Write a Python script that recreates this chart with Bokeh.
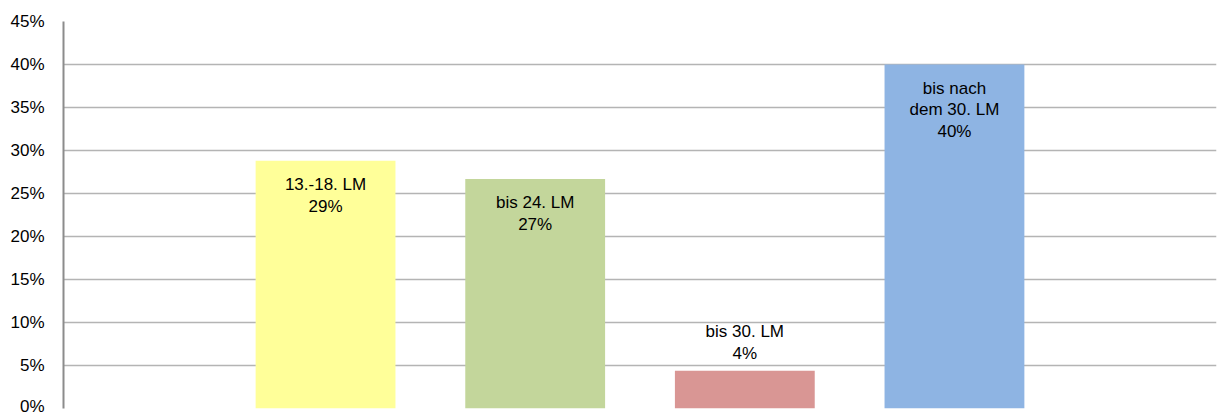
from bokeh.plotting import figure
from bokeh.models import ColumnDataSource, NumeralTickFormatter, FixedTicker, Range1d
from bokeh.core.properties import value
from bokeh.embed import file_html
from bokeh.resources import INLINE

categories = ["13.-18. LM", "bis 24. LM", "bis 30. LM", "bis nach\ndem 30. LM"]
shares = [0.288, 0.267, 0.044, 0.400]
colors = ["#FFFF99", "#C3D69B", "#D99694", "#8EB4E3"]
y_ticks = [0.0, 0.05, 0.10, 0.15, 0.20, 0.25, 0.30, 0.35, 0.40, 0.45]

FONT = "Liberation Sans"

xs = list(range(len(categories)))
labels = [f"{c}\n{round(v * 100):.0f}%" for c, v in zip(categories, shares)]

inside = [i for i, v in enumerate(shares) if v >= 0.1]
outside = [i for i, v in enumerate(shares) if v < 0.1]

src = ColumnDataSource(dict(x=xs, top=shares, color=colors, label=labels))
src_in = ColumnDataSource(dict(x=[xs[i] for i in inside], y=[shares[i] for i in inside],
                               label=[labels[i] for i in inside]))
src_out = ColumnDataSource(dict(x=[xs[i] for i in outside], y=[shares[i] for i in outside],
                                label=[labels[i] for i in outside]))

p = figure(width=1221, height=415, output_backend="svg", toolbar_location=None,
           x_range=Range1d(-1.25, 4.25), y_range=Range1d(0, 0.45),
           min_border_left=63, min_border_right=5, min_border_top=21, min_border_bottom=7)

p.vbar(x="x", top="top", width=0.667, color="color", line_color=None, source=src)

p.text(x="x", y="y", text="label", source=src_in, text_align="center", text_baseline="top",
       y_offset=14, text_font=value(FONT), text_font_size="17px", text_color="#000000",
       text_line_height=1.15)
p.text(x="x", y="y", text="label", source=src_out, text_align="center", text_baseline="bottom",
       y_offset=-8, text_font=value(FONT), text_font_size="17px", text_color="#000000",
       text_line_height=1.15)

p.xaxis.visible = False
p.xgrid.visible = False
p.ygrid.ticker = FixedTicker(ticks=y_ticks)
p.ygrid.grid_line_color = "#B4B4B4"
p.ygrid.grid_line_width = 1.5

ax = p.yaxis[0]
ax.ticker = FixedTicker(ticks=y_ticks)
ax.formatter = NumeralTickFormatter(format="0%")
ax.major_tick_line_color = None
ax.minor_tick_line_color = None
ax.major_tick_out = 0
ax.major_tick_in = 0
ax.major_label_standoff = 19
ax.axis_line_color = "#8C8C8C"
ax.axis_line_width = 2
ax.major_label_text_font = FONT
ax.major_label_text_font_size = "17px"
ax.major_label_text_color = "#000000"

p.outline_line_color = None
p.background_fill_color = "white"
p.border_fill_color = "white"

open("out.html", "w").write(file_html(p, INLINE))
